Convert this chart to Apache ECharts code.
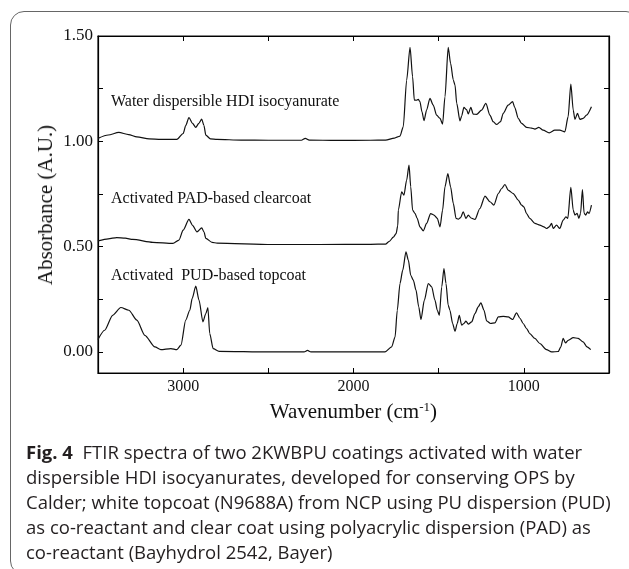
<!DOCTYPE html>
<html>
<head>
<meta charset="utf-8">
<script src="https://cdn.jsdelivr.net/npm/echarts@6/dist/echarts.min.js"></script>
<style>
  html, body { margin: 0; padding: 0; width: 629px; height: 569px; overflow: hidden; background: #fff; }
  #frame { position: absolute; left: 10px; top: 11px; width: 630px; height: 564px; border: 1.3px solid #666; border-radius: 14px; box-sizing: border-box; }
  #chart { position: absolute; left: 0; top: 0; width: 629px; height: 569px; }
  .serif { font-family: "Liberation Serif", "DejaVu Serif", serif; color: #111; white-space: nowrap; position: absolute; }
  .curve { left: 111px; font-size: 16px; line-height: 18px; }
  #xname { left: 353.4px; top: 410.7px; font-size: 21px; line-height: 24px; transform: translate(-50%, -50%); }
  #xname sup { font-size: 13px; vertical-align: 7px; line-height: 0; }
  #yname { left: 45px; top: 204.5px; font-size: 21px; line-height: 24px; transform: translate(-50%, -50%) rotate(-90deg); }
  #caption { position: absolute; left: 26px; top: 439px; font-family: "Open Sans", sans-serif; font-size: 18.5px; line-height: 25px; color: #231f20; white-space: nowrap; }
  #caption b { font-weight: 700; }
</style>
</head>
<body>
<div id="frame"></div>
<div id="chart"></div>
<div class="serif curve" id="lab0" style="top:91.7px"></div>
<div class="serif curve" id="lab1" style="top:189.3px"></div>
<div class="serif curve" id="lab2" style="top:266px"></div>
<div class="serif" id="xname">Wavenumber (cm<sup>-1</sup>)</div>
<div class="serif" id="yname">Absorbance (A.U.)</div>
<div id="caption"><b>Fig. 4</b>&nbsp; FTIR spectra of two 2KWBPU coatings activated with water<br>dispersible HDI isocyanurates, developed for conserving OPS by<br>Calder; white topcoat (N9688A) from NCP using PU dispersion (PUD)<br>as co-reactant and clear coat using polyacrylic dispersion (PAD) as<br>co-reactant (Bayhydrol 2542, Bayer)</div>
<script>
// Wavenumber (cm-1) and absorbance readings for each spectrum
const hdiWavenumber = [3500,3440,3378,3320,3272,3200,3131,3037,3000,2985,2966,2945,2926,2908,2891,2878,2867,2840,2801,2660,2500,2306,2283,2260,2100,1900,1812,1760,1741,1727,1708,1688,1668,1653,1643,1630,1620,1610,1598,1586,1571,1551,1532,1512,1492,1477,1463,1444,1430,1414,1404,1394,1375,1365,1352,1336,1326,1311,1297,1277,1248,1223,1199,1180,1160,1137,1121,1092,1066,1053,1033,1013,984,955,935,912,887,851,818,789,759,740,724,710,700,685,671,652,632,603];
const hdiAbsorbance = [1.014,1.030,1.042,1.032,1.021,1.012,1.009,1.009,1.037,1.075,1.113,1.085,1.066,1.085,1.105,1.075,1.029,1.012,1.009,1.006,1.005,1.005,1.014,1.006,1.004,1.005,1.006,1.015,1.021,1.025,1.069,1.29,1.446,1.306,1.196,1.195,1.199,1.188,1.140,1.098,1.148,1.204,1.172,1.124,1.109,1.082,1.211,1.446,1.37,1.291,1.267,1.18,1.097,1.12,1.161,1.15,1.13,1.161,1.129,1.128,1.148,1.18,1.124,1.093,1.080,1.093,1.133,1.172,1.188,1.16,1.109,1.085,1.066,1.063,1.058,1.066,1.053,1.040,1.053,1.053,1.045,1.117,1.272,1.148,1.104,1.133,1.104,1.109,1.124,1.164];

const padWavenumber = [3500,3440,3390,3340,3296,3178,3060,3025,3000,2966,2944,2919,2891,2878,2867,2830,2801,2480,2200,1900,1812,1790,1766,1750,1740,1737,1717,1704,1688,1674,1664,1653,1639,1626,1610,1590,1571,1547,1528,1508,1492,1477,1463,1446,1430,1414,1398,1385,1371,1356,1340,1326,1310,1287,1258,1228,1199,1176,1150,1130,1111,1092,1062,1033,1013,1000,984,965,935,906,882,867,851,837,828,808,789,769,753,742,724,710,700,687,677,667,656,646,637,626,617,603];
const padAbsorbance = [0.527,0.537,0.543,0.540,0.534,0.520,0.515,0.531,0.578,0.629,0.600,0.570,0.589,0.570,0.539,0.520,0.517,0.510,0.510,0.511,0.512,0.525,0.545,0.562,0.600,0.673,0.760,0.744,0.816,0.887,0.784,0.673,0.658,0.634,0.594,0.575,0.61,0.657,0.65,0.634,0.594,0.673,0.784,0.847,0.784,0.705,0.634,0.63,0.638,0.665,0.634,0.65,0.636,0.629,0.681,0.740,0.713,0.697,0.752,0.776,0.795,0.768,0.752,0.721,0.697,0.689,0.657,0.634,0.61,0.602,0.594,0.586,0.594,0.61,0.586,0.602,0.586,0.626,0.641,0.634,0.781,0.673,0.65,0.658,0.634,0.658,0.771,0.658,0.65,0.665,0.658,0.697];

const pudWavenumber = [3500,3461,3414,3366,3319,3272,3225,3166,3131,3072,3037,3013,2985,2961,2947,2926,2907,2884,2867,2855,2844,2824,2789,2500,2290,2270,2250,1815,1776,1756,1743,1727,1711,1692,1678,1664,1649,1633,1617,1604,1584,1561,1541,1522,1508,1496,1482,1469,1457,1444,1434,1418,1404,1391,1379,1365,1352,1340,1326,1306,1287,1268,1252,1234,1218,1195,1170,1150,1121,1092,1066,1043,1023,1004,984,965,935,906,867,837,798,783,769,755,740,710,681,652,629,607];
const pudAbsorbance = [0.059,0.103,0.174,0.211,0.198,0.151,0.079,0.024,0.011,0.016,0.011,0.032,0.151,0.198,0.254,0.312,0.246,0.143,0.182,0.211,0.087,0.016,0.003,0.0,0.0,0.007,0.0,0.0,0.024,0.071,0.198,0.325,0.388,0.475,0.436,0.364,0.341,0.293,0.214,0.154,0.246,0.325,0.309,0.246,0.198,0.174,0.309,0.396,0.325,0.222,0.198,0.135,0.098,0.135,0.174,0.127,0.135,0.146,0.132,0.143,0.182,0.214,0.233,0.198,0.147,0.135,0.138,0.166,0.169,0.166,0.154,0.185,0.16,0.135,0.111,0.087,0.064,0.040,0.011,0.0,0.002,0.024,0.064,0.043,0.055,0.068,0.064,0.048,0.024,0.011];

const seriesLabels = ["Water dispersible HDI isocyanurate", "Activated PAD-based clearcoat", "Activated\u00a0 PUD-based topcoat"];
const xTickLabels = [3000,2000,1000];
const yTickLabels = [0,0.5,1.0,1.5];

seriesLabels.forEach((t, i) => { document.getElementById('lab' + i).textContent = t; });

function zip(xs, ys) { return xs.map((x, i) => [x, ys[i]]); }
function isLabel(list, v) { return list.some(t => Math.abs(t - v) < 1e-6); }

const serif = '"Liberation Serif", "DejaVu Serif", serif';
const gridRect = { left: 98, right: 20, top: 36, bottom: 196 };
function axLine() { return { show: true, onZero: false, lineStyle: { color: '#000', width: 1.2 } }; }
function axTick() { return { show: true, inside: true, length: 5, lineStyle: { color: '#000', width: 1 } }; }
function noSplit() { return { show: true, lineStyle: { color: 'rgba(255,255,255,0)', width: 1 } }; }

const chart = echarts.init(document.getElementById('chart'));
chart.setOption({
  animation: false,
  grid: [Object.assign({ show: true, borderColor: '#111', borderWidth: 1.2, backgroundColor: 'transparent' }, gridRect),
         Object.assign({}, gridRect)],
  xAxis: [{
    gridIndex: 0, type: 'value', inverse: true, min: 500, max: 3500, interval: 500,
    axisLine: axLine(), axisTick: axTick(), splitLine: noSplit(),
    axisLabel: { color: '#111', fontFamily: serif, fontSize: 16, margin: 6,
      formatter: v => (isLabel(xTickLabels, v) ? String(v) : '') }
  }, {
    gridIndex: 1, type: 'value', inverse: true, min: 500, max: 3500, interval: 500, position: 'top',
    axisLine: axLine(), axisTick: axTick(), splitLine: noSplit(), axisLabel: { show: false }
  }],
  yAxis: [{
    gridIndex: 0, type: 'value', min: -0.1, max: 1.5, minInterval: 0.25, maxInterval: 0.25,
    axisLine: axLine(), axisTick: axTick(), splitLine: noSplit(),
    axisLabel: { color: '#111', fontFamily: serif, fontSize: 17, margin: 5,
      formatter: v => (isLabel(yTickLabels, v) ? v.toFixed(2) : '') }
  }, {
    gridIndex: 1, type: 'value', min: -0.1, max: 1.5, minInterval: 0.25, maxInterval: 0.25, position: 'right',
    axisLine: axLine(), axisTick: axTick(), splitLine: noSplit(), axisLabel: { show: false }
  }],
  series: [
    { type: 'line', name: seriesLabels[0], data: zip(hdiWavenumber, hdiAbsorbance) },
    { type: 'line', name: seriesLabels[1], data: zip(padWavenumber, padAbsorbance) },
    { type: 'line', name: seriesLabels[2], data: zip(pudWavenumber, pudAbsorbance) }
  ].map(s => Object.assign(s, { showSymbol: false, symbol: 'none', smooth: 0.25, smoothMonotone: 'x',
    lineStyle: { color: '#111', width: 1.2 }, xAxisIndex: 0, yAxisIndex: 0 }))
});
</script>
</body>
</html>
